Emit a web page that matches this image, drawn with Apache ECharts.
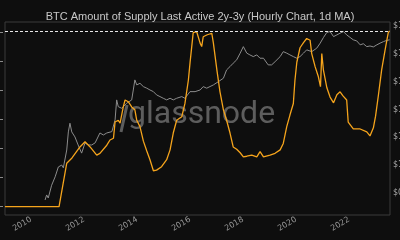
<!DOCTYPE html>
<html><head><meta charset="utf-8">
<script src="https://cdn.jsdelivr.net/npm/echarts@6/dist/echarts.min.js"></script>
<style>html,body{margin:0;padding:0;background:#0e0e0e}#c{width:400px;height:240px}</style>
</head><body><div id="c"></div>
<script>
const titleText = 'BTC Amount of Supply Last Active 2y-3y (Hourly Chart, 1d MA)';
const xTickDates = ['2010-01-01','2012-01-01','2014-01-01','2016-01-01','2018-01-01','2020-01-01','2022-01-01'];
const supplyTicks = [0, 0.5, 1, 1.5, 2, 2.5, 3];            // million BTC (labels off-canvas)
const priceTicks = [0.1, 1, 10, 100, 1000, 10000, 100000];
const athLevel = 3.03;

const supplyDates = ['2009-01-07','2011-01-22','2011-05-08','2011-07-19','2011-11-06','2012-01-15','2012-03-25','2012-06-24','2012-08-07','2012-11-10','2012-12-24','2013-02-10','2013-03-04','2013-04-17','2013-05-12','2013-06-25','2013-07-20','2013-09-02','2013-10-19','2013-12-02','2013-12-28','2014-02-10','2014-03-29','2014-05-15','2014-06-28','2014-08-14','2014-09-27','2014-12-05','2015-02-13','2015-04-01','2015-05-15','2015-07-01','2015-09-09','2015-10-23','2015-12-09','2016-01-01','2016-02-14','2016-04-01','2016-05-19','2016-06-10','2016-07-01','2016-08-18','2016-10-27','2016-11-18','2017-01-05','2017-02-17','2017-04-05','2017-05-19','2017-07-05','2017-08-18','2017-10-05','2017-11-22','2018-01-05','2018-02-21','2018-05-01','2018-07-09','2018-08-23','2018-10-09','2019-01-08','2019-03-18','2019-05-27','2019-07-09','2019-08-26','2019-10-09','2019-11-25','2019-12-17','2020-01-12','2020-02-25','2020-04-13','2020-05-27','2020-07-13','2020-08-04','2020-09-21','2020-11-04','2020-12-03','2020-12-21','2021-01-12','2021-03-01','2021-04-14','2021-06-01','2021-07-17','2021-08-30','2021-10-09','2021-11-29','2021-12-20','2022-01-15','2022-02-28','2022-06-03','2022-09-02','2022-10-16','2022-12-02','2023-01-01','2023-02-10','2023-03-26','2023-05-12','2023-06-25','2023-07-13'];
const supplyValues = [0,0,0.75,0.84,1.03,1.12,1.03,0.89,0.92,1.06,1.15,1.18,1.46,1.49,1.44,1.72,1.84,1.81,1.72,1.67,1.49,1.38,1.13,0.96,0.81,0.62,0.63,0.69,0.81,0.98,1.27,1.49,1.55,1.78,2.18,2.48,3.00,3.02,2.82,2.76,2.93,2.96,2.99,2.82,2.36,1.98,1.67,1.49,1.27,1.03,0.99,0.93,0.86,0.87,0.89,0.86,0.95,0.86,0.89,0.92,0.98,1.09,1.38,1.58,1.78,2.18,2.49,2.74,2.83,2.90,2.87,2.64,2.41,2.24,2.07,2.64,2.36,2.05,1.89,1.79,1.93,1.98,1.91,1.84,1.46,1.43,1.34,1.34,1.29,1.22,1.36,1.56,1.93,2.36,2.70,3.00,3.03];

const priceDates = ['2010-07-13','2010-08-04','2010-08-26','2010-10-12','2010-11-29','2011-01-12','2011-02-28','2011-03-22','2011-05-08','2011-05-30','2011-06-21','2011-07-16','2011-08-29','2011-10-12','2011-11-29','2012-01-15','2012-02-28','2012-04-16','2012-06-02','2012-08-07','2012-09-24','2012-11-10','2013-01-19','2013-03-04','2013-03-26','2013-04-17','2013-06-03','2013-08-11','2013-10-19','2013-11-10','2013-12-02','2013-12-28','2014-02-10','2014-03-29','2014-05-15','2014-06-28','2014-08-14','2014-09-27','2014-11-13','2014-12-28','2015-02-13','2015-04-01','2015-05-15','2015-07-01','2015-09-09','2015-10-23','2016-01-01','2016-03-11','2016-05-19','2016-07-01','2016-08-18','2016-11-18','2017-01-27','2017-04-05','2017-05-19','2017-07-05','2017-08-18','2017-10-05','2017-11-22','2018-01-05','2018-02-21','2018-04-05','2018-05-22','2018-07-09','2018-08-23','2018-10-09','2018-12-13','2019-01-30','2019-03-18','2019-05-27','2019-07-09','2019-08-26','2019-10-09','2019-11-25','2020-01-12','2020-02-25','2020-04-13','2020-05-27','2020-08-04','2020-10-12','2020-11-29','2021-01-12','2021-03-01','2021-04-14','2021-06-01','2021-07-17','2021-08-30','2021-10-16','2021-11-29','2022-01-15','2022-02-28','2022-04-16','2022-06-03','2022-07-16','2022-09-02','2022-10-16','2022-12-02','2023-01-19','2023-03-04','2023-04-20','2023-06-03','2023-07-13'];
const priceValues = [0.056,0.085,0.066,0.19,0.38,0.86,1.01,0.8,3.5,15.6,32,15.6,10.3,5.3,2.7,6.3,5.3,5.3,6.3,14.3,12.1,14.3,16,42,220,126,110,167,220,500,1150,760,870,660,580,500,436,333,289,252,220,252,220,252,289,252,436,436,500,660,580,760,1000,1320,2630,3460,4570,6030,10500,18000,10500,9100,7900,9100,6900,6900,3980,3980,5200,7900,11900,10500,9100,7900,6900,7900,10500,13800,11900,15800,24000,38000,58500,62500,41300,47500,54700,62500,47500,38600,31600,29000,20900,22900,18000,19000,17600,20900,24000,27300,30100,31600];

const chart = echarts.init(document.getElementById('c'), null, {renderer: 'canvas'});
const priceLabel = {0.1: '$0.1', 1: '$1', 10: '$10', 100: '$100', 1000: '$1k', 10000: '$10k', 100000: '$100k'};
chart.setOption({
  backgroundColor: '#0e0e0e',
  animation: false,
  title: {text: titleText, left: 'center', top: 6,
    textStyle: {color: '#c8c8c8', fontSize: 11, fontWeight: 'normal', fontFamily: 'Liberation Sans'}},
  grid: {left: 5, right: 10, top: 22, bottom: 25, show: true, borderColor: '#3a3a3a', borderWidth: 1,
    containLabel: false, outerBoundsMode: 'none'},
  graphic: [
    {type: 'text', left: 128, top: 99, z: 0, silent: true,
      style: {text: 'glassnode', fill: 'rgba(125,125,125,0.72)', font: '400 32px Roboto'}},
    {type: 'line', z: 0, silent: true, shape: {x1: 127, y1: 105, x2: 121, y2: 132},
      style: {stroke: 'rgba(125,125,125,0.72)', lineWidth: 3}}
  ],
  xAxis: {
    type: 'time', min: '2009-01-07', max: '2023-07-19',
    axisLine: {show: false}, axisTick: {show: false}, splitLine: {show: false},
    axisLabel: {customValues: xTickDates, formatter: '{yyyy}', rotate: 30, color: '#9a9a9a',
      fontSize: 8, margin: 4, fontFamily: 'DejaVu Sans'}
  },
  yAxis: [
    {type: 'value', position: 'left', min: -0.143, max: 3.184, offset: 2,
      axisLine: {show: false}, splitLine: {show: false},
      axisTick: {show: true, customValues: supplyTicks, length: 3, inside: false, lineStyle: {color: '#8a8a8a'}},
      axisLabel: {show: false}},
    {type: 'log', position: 'right', min: 0.0162, max: 138000,
      axisLine: {show: false}, splitLine: {show: false}, axisTick: {show: false},
      axisLabel: {customValues: priceTicks, color: '#a8a8a8', fontSize: 8, margin: 3, fontFamily: 'DejaVu Sans',
        formatter: v => { const k = Math.round(Math.log10(v)); return priceLabel[Math.pow(10, k) >= 1 ? Math.round(Math.pow(10, k)) : 0.1] || ''; }}}
  ],
  series: [
    {type: 'line', yAxisIndex: 1, showSymbol: false, z: 2,
      data: priceDates.map((d, i) => [d, priceValues[i]]),
      lineStyle: {color: '#8c8c8c', width: 1}},
    {type: 'line', yAxisIndex: 0, showSymbol: false, z: 3,
      data: supplyDates.map((d, i) => [d, supplyValues[i]]),
      lineStyle: {color: '#f5a41c', width: 1.3},
      markLine: {silent: true, symbol: 'none', label: {show: false},
        lineStyle: {color: '#e6e6e6', type: [3, 2], width: 1},
        data: [{yAxis: athLevel}]}}
  ]
});
</script></body></html>
